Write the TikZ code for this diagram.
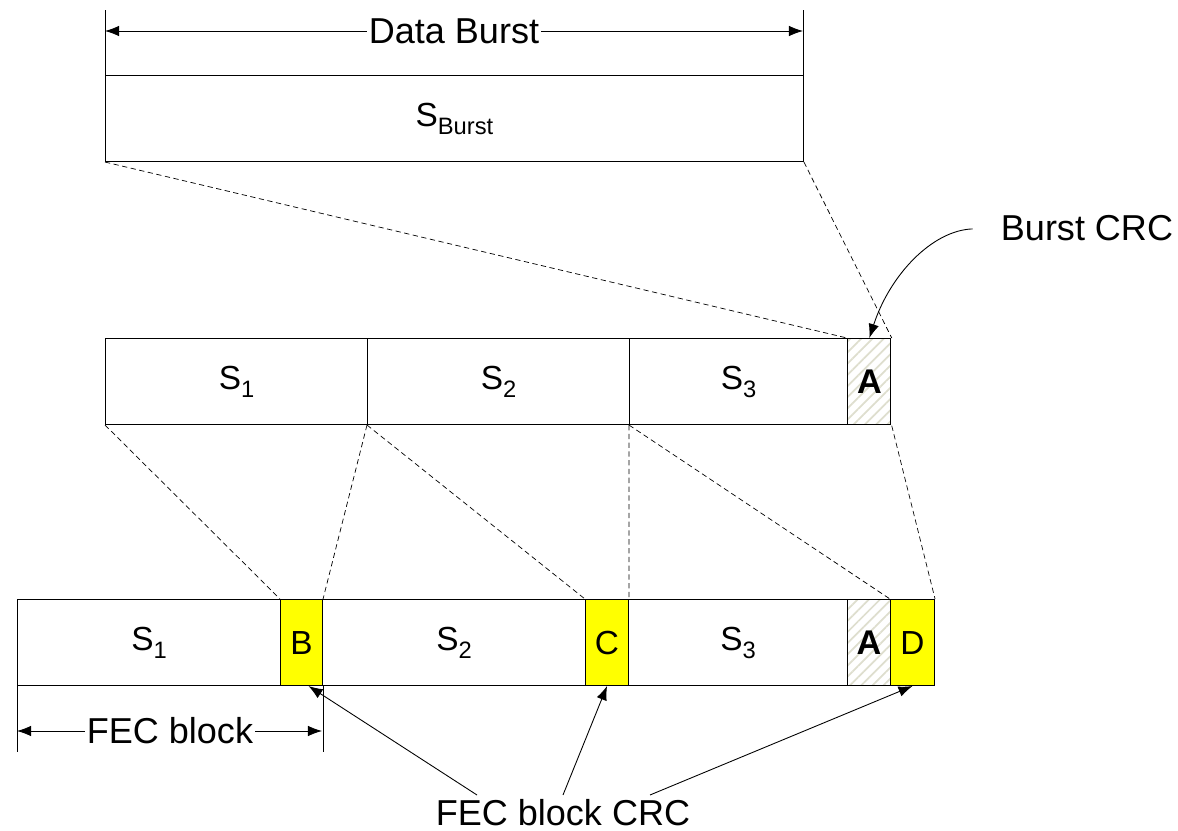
\documentclass[tikz,border=0pt]{standalone}
\usepackage{fontspec}
\setmainfont{Liberation Sans}
\usetikzlibrary{arrows.meta,patterns.meta}

\definecolor{crcyellow}{RGB}{255,255,0}
\definecolor{hatchgray}{RGB}{222,222,206}

% label with a lowered subscript
\newcommand{\segsub}[2]{#1\raisebox{-4.5pt}{\fontsize{13.5}{13.5}\selectfont #2}}

\tikzset{
  seg/.style={draw, line width=0.6pt, anchor=north west, minimum height=1.72cm,
    inner sep=0pt, font=\fontsize{19}{19}\selectfont},
  fecbox/.style={seg, fill=crcyellow},
  crcbox/.style={seg, pattern={Lines[angle=45,distance=4.5pt,line width=1pt]},
    pattern color=hatchgray, font=\fontsize{19.5}{19.5}\selectfont\bfseries},
  zoomline/.style={dash pattern=on 3pt off 2pt, line width=0.4pt},
  bigtext/.style={font=\fontsize{20.5}{20.5}\selectfont, inner sep=1pt},
  dimline/.style={line width=0.5pt}
}

\begin{document}
\begin{tikzpicture}[x=0.02cm, y=-0.02cm, >={Latex[length=8pt,width=6pt]}]
    \useasboundingbox (0,0) rectangle (1178,831);

    % whole burst
    \node[seg, minimum width=13.96cm] (burst) at (105,75) {\segsub{S}{Burst}};
    \node[bigtext] (dbtxt) at (454,31) {Data Burst};
    \coordinate (dbL) at (105,31);
    \coordinate (dbR) at (803,31);
    \draw[dimline, ->] (dbtxt) -- (dbL);
    \draw[dimline, ->] (dbtxt) -- (dbR);
    \draw[dimline] (burst.north west) -- ++(0,-65);
    \draw[dimline] (burst.north east) -- ++(0,-65);

    % burst split in segments
    \foreach \x/\w/\name/\i in {105/5.24/m1/1, 367/5.24/m2/2, 629/4.36/m3/3}
    {
        \node[seg, minimum width=\w cm] (\name) at (\x,338) {\segsub{S}{\i}};
    }
    \node[crcbox, minimum width=0.86cm] (mA) at (847,338) {A};

    % FEC blocks
    \foreach \x/\w/\name/\i in {17/5.26/b1/1, 322/5.26/b2/2, 628/4.38/b3/3}
    {
        \node[seg, minimum width=\w cm] (\name) at (\x,599) {\segsub{S}{\i}};
    }
    \node[fecbox, minimum width=0.84cm] (bB) at (280,599) {B};
    \node[fecbox, minimum width=0.86cm] (bC) at (585,599) {C};
    \node[crcbox, minimum width=0.86cm] (bA) at (847,599) {A};
    \node[fecbox, minimum width=0.88cm] (bD) at (890,599) {D};

    \draw[zoomline] (burst.south west) -- (mA.north west);
    \draw[zoomline] (burst.south east) -- (mA.north east);
    \draw[zoomline] (m1.south west) -- (bB.north west);
    \draw[zoomline] (m2.south west) -- (bB.north east);
    \draw[zoomline] (m2.south west) -- (bC.north west);
    \draw[zoomline] (m3.south west) -- (bC.north east);
    \draw[zoomline] (m3.south west) -- (bD.north west);
    \draw[zoomline] (mA.south east) -- (bD.north east);

    % FEC block size
    \node[bigtext] (fectxt) at (170,731) {FEC block};
    \coordinate (fL) at (17,731);
    \coordinate (fR) at (322,731);
    \draw[dimline, ->] (fectxt) -- (fL);
    \draw[dimline, ->] (fectxt) -- (fR);
    \draw[dimline] (b1.south west) -- ++(0,66);
    \draw[dimline] (bB.south east) -- ++(0,66);

    % callouts
    \node[bigtext] (bcrc) at (1087,228) {Burst CRC};
    \draw[dimline, ->, shorten <=15pt] (bcrc.west) to[out=182, in=72] (mA.north);

    \node[bigtext, anchor=base, inner sep=0pt] (fcrc) at (563,825) {FEC block CRC};
    \coordinate (c1) at (477,795);
    \coordinate (c2) at (563,795);
    \coordinate (c3) at (650,795);
    \draw[dimline, ->] (c1) -- ([xshift=4pt]bB.south);
    \draw[dimline, ->] (c2) -- (bC.south);
    \draw[dimline, ->] (c3) -- (bD.south);
\end{tikzpicture}
\end{document}
